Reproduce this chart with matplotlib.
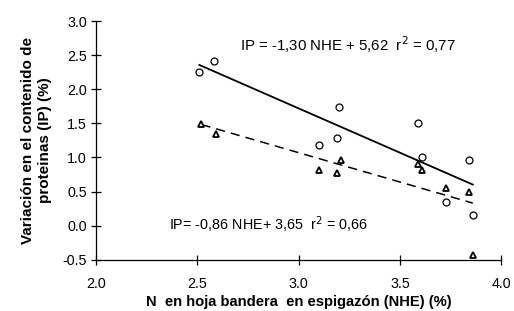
import matplotlib
matplotlib.use('Agg')
import matplotlib.pyplot as plt
import numpy as np

# circles: IP (total protein variation)
nhe_circ = [2.51, 2.58, 3.20, 3.10, 3.19, 3.59, 3.61, 3.84, 3.73, 3.86]
ip_circ = [2.25, 2.41, 1.74, 1.19, 1.28, 1.50, 1.01, 0.96, 0.35, 0.15]

# triangles
nhe_tri = [2.52, 2.59, 3.10, 3.19, 3.21, 3.59, 3.61, 3.73, 3.84, 3.86]
ip_tri = [1.49, 1.35, 0.81, 0.77, 0.96, 0.90, 0.81, 0.55, 0.50, -0.43]

# regression lines (slope, intercept)
fit_circ = (-1.30, 5.62)
fit_tri = (-0.86, 3.65)

plt.rcParams['font.family'] = ['Liberation Sans', 'DejaVu Sans']

fig = plt.figure(figsize=(5.14, 3.11), dpi=100)
ax = fig.add_axes([0.187, 0.165, 0.788, 0.767])

ax.plot(nhe_circ, ip_circ, 'o', mfc='white', mec='black', ms=5, mew=0.9, zorder=3)
ax.plot(nhe_tri, ip_tri, '^', mfc='white', mec='black', ms=5, mew=1.3, zorder=3)

xs = np.array([min(nhe_circ), max(nhe_circ)])
ax.plot(xs, fit_circ[0] * xs + fit_circ[1], color='black', lw=1.3)
xt = np.array([min(nhe_tri), max(nhe_tri)])
ax.plot(xt, fit_tri[0] * xt + fit_tri[1], color='black', lw=1.1, ls=(0, (6, 4)))

ax.text(2.71, 2.66, 'IP = -1,30 NHE + 5,62  r$^2$ = 0,77', fontsize=10.8, va='center')
ax.text(2.36, 0.01, 'IP= -0,86 NHE+ 3,65  r$^2$ = 0,66', fontsize=10.4, va='center')

ax.set_xlim(2.0, 4.0)
ax.set_ylim(-0.5, 3.0)
ax.set_xticks([2.0, 2.5, 3.0, 3.5, 4.0])
ax.set_yticks(np.arange(-0.5, 3.01, 0.5))
ax.xaxis.set_major_formatter(matplotlib.ticker.FormatStrFormatter('%.1f'))
ax.yaxis.set_major_formatter(matplotlib.ticker.FormatStrFormatter('%.1f'))
ax.tick_params(direction='inout', length=7, width=0.9, labelsize=10.3)
ax.tick_params(axis='x', pad=9)
ax.tick_params(axis='y', pad=3)
ax.spines['top'].set_visible(False)
ax.spines['right'].set_visible(False)
ax.spines['left'].set_linewidth(0.9)
ax.spines['bottom'].set_linewidth(0.9)

ax.set_xlabel('N  en hoja bandera  en espigazón (NHE) (%)', fontsize=10.6, fontweight='bold', labelpad=3)
ax.set_ylabel('Variación en el contenido de\nproteinas (IP) (%)', fontsize=11, fontweight='bold',
              labelpad=8, multialignment='center')

fig.savefig('out.png', dpi=100)
